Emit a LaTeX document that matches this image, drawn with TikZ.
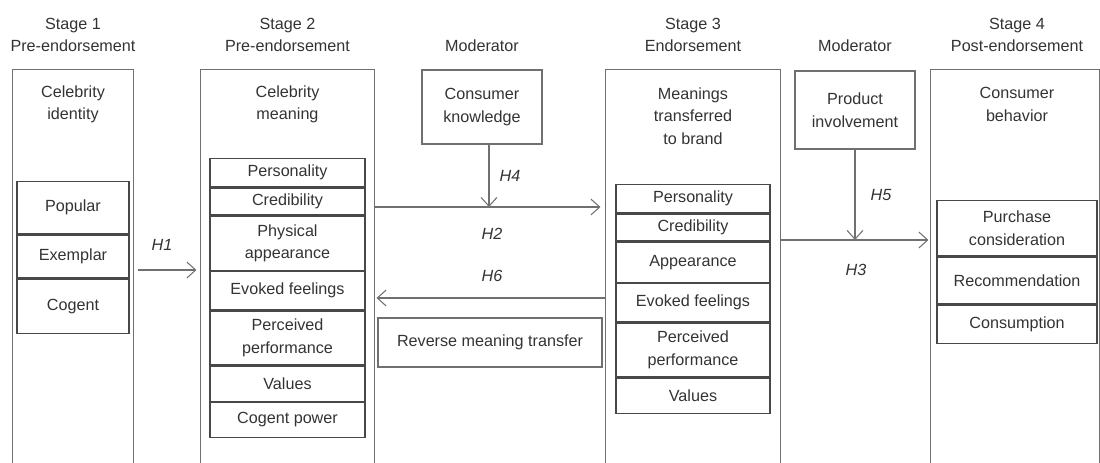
\documentclass[tikz,border=0pt]{standalone}
\usepackage{fontspec}
\setmainfont{Liberation Sans}
\usetikzlibrary{arrows.meta, positioning}
\definecolor{tekst}{HTML}{333333}
\definecolor{linje}{HTML}{707070}
\definecolor{rute}{HTML}{484848}

\begin{document}
\begin{tikzpicture}[
    x=0.02cm, y=-0.02cm,
    node distance = 0pt and 0pt,
    kolonne/.style = {rectangle, minimum height=7.86cm, minimum width=#1, inner sep=0pt},
    punkt/.style = {rectangle, draw=linje, minimum width=2.4cm, align=center, inner sep=0pt},
    felt/.style = {rectangle, draw=rute, line width=0.75pt, minimum width=#1, align=center, inner sep=0pt},
    pil/.style = {draw=linje, -{Straight Barb[length=5pt, width=9pt]}},
    hyp/.style = {font=\fontsize{9.2}{12.8}\selectfont\itshape},
    font=\fontsize{9.2}{12.8}\selectfont, text=tekst, line width=0.6pt
    ]
  \useasboundingbox (0,0) rectangle (1100,463);

  % stages
  \node[kolonne=2.4cm] (col1) at (73,266.5) {};
  \node[kolonne=3.46cm] (col2) at (287.5,266.5) {};
  \node[kolonne=3.48cm] (col3) at (693,266.5) {};
  \node[kolonne=3.36cm] (col4) at (1015,266.5) {};
  \foreach \c in {col1,col2,col3,col4}
    \draw[linje] (\c.south west) |- (\c.north east) -- (\c.south east);

  \node[align=center] (s1) at (73,35) {Stage 1\\Pre-endorsement};
  \node[align=center] (s2) at (287.5,35) {Stage 2\\Pre-endorsement};
  \node (m1) at (482,46) {Moderator};
  \node[align=center] (s3) at (693,35) {Stage 3\\Endorsement};
  \node (m2) at (855,46) {Moderator};
  \node[align=center] (s4) at (1017,35) {Stage 4\\Post-endorsement};

  \node[align=center] (t1) at (73,104.5) {Celebrity\\identity};
  \node[align=center] (t2) at (287.5,104.5) {Celebrity\\meaning};
  \node[align=center] (t3) at (693,116) {Meanings\\transferred\\to brand};
  \node[align=center] (t4) at (1017,104.5) {Consumer\\behavior};

  % stage 1
  \node[felt=2.24cm, minimum height=1.04cm, anchor=north] (popular) at (73,181) {Popular};
  \node[felt=2.24cm, minimum height=0.86cm] (exemplar) [below=of popular] {Exemplar};
  \node[felt=2.24cm, minimum height=1.08cm] (cogent) [below=of exemplar] {Cogent};

  % stage 2
  \node[felt=3.1cm, minimum height=0.56cm, anchor=north] (pers2) at (287.5,158) {Personality};
  \node[felt=3.1cm, minimum height=0.54cm] (cred2) [below=of pers2] {Credibility};
  \node[felt=3.1cm, minimum height=1.08cm] (phys2) [below=of cred2] {Physical\\appearance};
  \node[felt=3.1cm, minimum height=0.76cm] (feel2) [below=of phys2] {Evoked feelings};
  \node[felt=3.1cm, minimum height=1.08cm] (perf2) [below=of feel2] {Perceived\\performance};
  \node[felt=3.1cm, minimum height=0.70cm] (val2) [below=of perf2] {Values};
  \node[felt=3.1cm, minimum height=0.70cm] (power2) [below=of val2] {Cogent power};

  % stage 3
  \node[felt=3.08cm, minimum height=0.56cm, anchor=north] (pers3) at (693,184) {Personality};
  \node[felt=3.08cm, minimum height=0.54cm] (cred3) [below=of pers3] {Credibility};
  \node[felt=3.08cm, minimum height=0.80cm] (app3) [below=of cred3] {Appearance};
  \node[felt=3.08cm, minimum height=0.76cm] (feel3) [below=of app3] {Evoked feelings};
  \node[felt=3.08cm, minimum height=1.08cm] (perf3) [below=of feel3] {Perceived\\performance};
  \node[felt=3.08cm, minimum height=0.70cm] (val3) [below=of perf3] {Values};

  % stage 4
  \node[felt=3.2cm, minimum height=1.10cm, anchor=north] (purchase) at (1017,200) {Purchase\\consideration};
  \node[felt=3.2cm, minimum height=0.94cm] (recommend) [below=of purchase] {Recommendation};
  \node[felt=3.2cm, minimum height=0.76cm] (consume) [below=of recommend] {Consumption};

  % moderators
  \node[punkt, minimum height=1.48cm] (know) at (482,107) {Consumer\\knowledge};
  \node[punkt, minimum height=1.56cm] (prod) at (855,110) {Product\\involvement};
  \node[punkt, minimum width=4.48cm, minimum height=0.98cm] (reverse) at (490,342.5) {Reverse meaning transfer};

  \coordinate (j0) at (167,270);
  \coordinate (j1) at (489,207);
  \coordinate (j2) at (490,298);
  \coordinate (j3) at (855,240);

  \node[hyp] (h1) at (162,245) {H1};
  \node[hyp] (h4) at (510,176) {H4};
  \node[hyp] (h2) at (492,234) {H2};
  \node[hyp] (h6) at (492,276) {H6};
  \node[hyp] (h5) at (881,195) {H5};
  \node[hyp] (h3) at (856,270) {H3};

  \path
  (col1.east |- j0) edge[pil, shorten <=0.08cm, shorten >=0.08cm] (col2.west |- j0)
  (j1 |- know.south) edge[pil] (j1)
  (col2.east |- j1) edge[pil, shorten >=0.1cm] (col3.west |- j1)
  (col3.west |- j2) edge[pil, shorten >=0.04cm] (col2.east |- j2)
  (prod.south) edge[pil] (j3)
  (col3.east |- j3) edge[pil, shorten >=0.04cm] (col4.west |- j3) ;
\end{tikzpicture}
\end{document}
